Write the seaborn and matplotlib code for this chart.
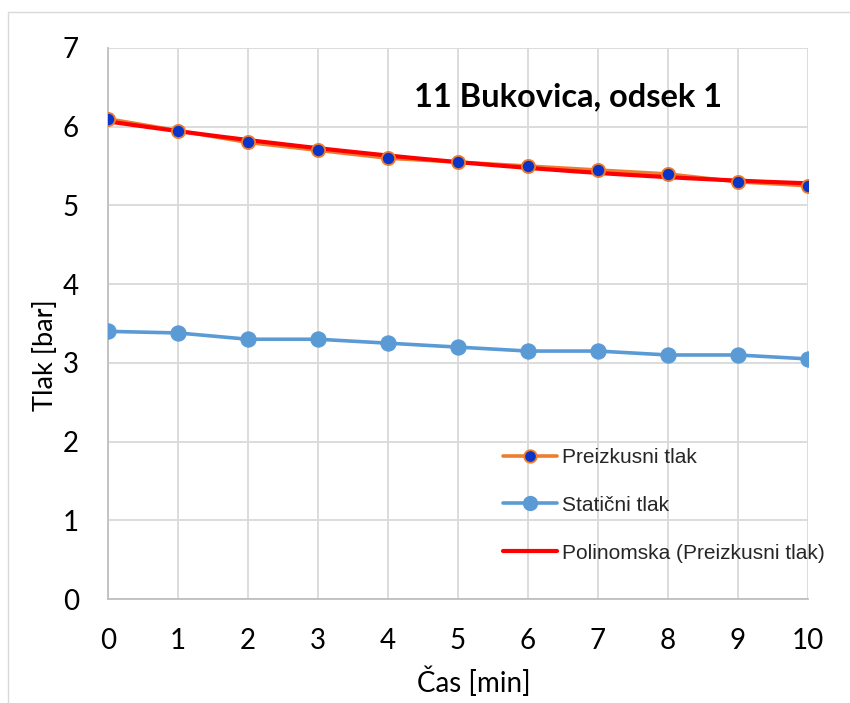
import numpy as np
import pandas as pd
import matplotlib
matplotlib.use("Agg")
import matplotlib.pyplot as plt
from matplotlib.lines import Line2D
from matplotlib.patches import Rectangle
import seaborn as sns

# Measurements
cas_min = [0, 1, 2, 3, 4, 5, 6, 7, 8, 9, 10]
preizkusni_tlak = [6.1, 5.95, 5.8, 5.7, 5.6, 5.55, 5.5, 5.45, 5.4, 5.3, 5.25]
staticni_tlak = [3.4, 3.38, 3.3, 3.3, 3.25, 3.2, 3.15, 3.15, 3.1, 3.1, 3.05]
x_ticks = list(range(0, 11))
y_ticks = list(range(0, 8))

title = "11 Bukovica, odsek 1"
label_pre = "Preizkusni tlak"
label_sta = "Statični tlak"
label_poly = "Polinomska (Preizkusni tlak)"

sns.set_theme(style="whitegrid")
plt.rcParams["font.family"] = ["Lato", "DejaVu Sans"]

ORANGE = "#ED7D31"
DARKBLUE = "#0A35C8"
LIGHTBLUE = "#5B9BD5"
RED = "#FF0000"
GRID = "#D9D9D9"

df = pd.DataFrame({"cas": cas_min, "pre": preizkusni_tlak, "sta": staticni_tlak})

fig = plt.figure(figsize=(8.5, 7.03), dpi=100)
fig.patch.set_facecolor("white")
ax = fig.add_axes([108 / 850, 1 - 599 / 703, 700 / 850, 551 / 703])

# Chart border
fig.add_artist(Rectangle((8 / 850, -0.1), 1.2, 1 - 12 / 703 + 0.1,
                         transform=fig.transFigure, fill=False,
                         edgecolor="#D9D9D9", linewidth=1.0))

# Static pressure
sns.lineplot(data=df, x="cas", y="sta", ax=ax, color=LIGHTBLUE, linewidth=2.6,
             marker="o", markersize=11, markeredgecolor=LIGHTBLUE,
             markerfacecolor=LIGHTBLUE, zorder=3)

# Test pressure line
sns.lineplot(data=df, x="cas", y="pre", ax=ax, color=ORANGE, linewidth=2.6,
             zorder=3)

# Second-order polynomial trendline of test pressure
coef = np.polyfit(cas_min, preizkusni_tlak, 2)
xs = np.linspace(min(cas_min), max(cas_min), 200)
ax.plot(xs, np.polyval(coef, xs), color=RED, linewidth=3.0, zorder=4,
        solid_capstyle="round")

# Test pressure markers
ax.plot(cas_min, preizkusni_tlak, linestyle="none", marker="o", markersize=9.5,
        markerfacecolor=DARKBLUE, markeredgecolor=ORANGE, markeredgewidth=1.3,
        zorder=5)

ax.set_xlim(0, 10)
ax.set_ylim(0, 7)
ax.set_xticks(x_ticks)
ax.set_yticks(y_ticks)
ax.tick_params(axis="both", labelsize=20, colors="black", length=0)
ax.tick_params(axis="x", pad=21)
ax.tick_params(axis="y", pad=21)
ax.grid(True, color=GRID, linewidth=1.3)
for side in ("top", "right"):
    ax.spines[side].set_visible(False)
for side in ("left", "bottom"):
    ax.spines[side].set_color("#BFBFBF")
    ax.spines[side].set_linewidth(1.3)
ax.set_facecolor("white")

ax.set_xlabel("Čas [min]", fontsize=20, color="black")
ax.xaxis.set_label_coords(0.523, -(667 - 599) / 551)
ax.set_ylabel("Tlak [bar]", fontsize=19.5, color="black", va="center")
ax.yaxis.set_label_coords(-(108 - 46) / 700, (599 - 355) / 551)

ax.text(0.657, 0.911, title, transform=ax.transAxes, ha="center", va="center",
        fontsize=23.5, fontweight="bold", color="black")

handles = [
    Line2D([0], [0], color=ORANGE, linewidth=2.6, marker="o", markersize=9,
           markerfacecolor=DARKBLUE, markeredgecolor=ORANGE, markeredgewidth=1.3),
    Line2D([0], [0], color=LIGHTBLUE, linewidth=2.6, marker="o", markersize=10,
           markerfacecolor=LIGHTBLUE, markeredgecolor=LIGHTBLUE),
    Line2D([0], [0], color=RED, linewidth=3.0),
]
leg = ax.legend(handles, [label_pre, label_sta, label_poly],
                loc="upper left", bbox_to_anchor=(0.564, 0.274),
                frameon=False,
                prop={"family": ["Liberation Sans", "DejaVu Sans"], "size": 15},
                handlelength=2.6, handletextpad=0.25, labelspacing=1.38,
                borderaxespad=0, borderpad=0)

fig.savefig("out.png", dpi=100, facecolor="white")
